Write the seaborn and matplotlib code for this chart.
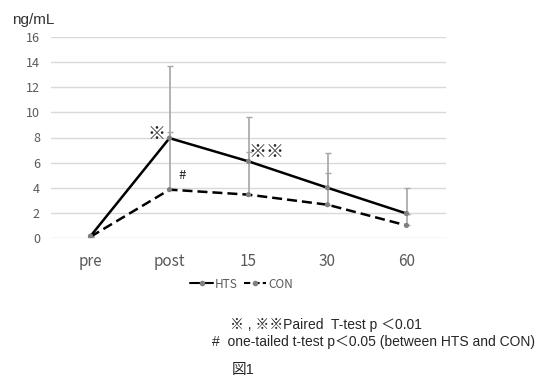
import numpy as np
import pandas as pd
import matplotlib
matplotlib.use('Agg')
import matplotlib.pyplot as plt
import seaborn as sns
from matplotlib.lines import Line2D

# data
time_points = ["pre", "post", "15", "30", "60"]
hts_mean = [0.15, 7.95, 6.1, 4.0, 1.95]
hts_err = [0.0, 5.75, 3.5, 2.8, 2.0]
con_mean = [0.1, 3.85, 3.45, 2.65, 1.0]
con_err = [0.0, 4.6, 3.4, 2.55, 0.9]

sns.set_style("white")
plt.rcParams['font.family'] = ['Noto Sans CJK JP', 'DejaVu Sans']
arial_cjk = ['Liberation Sans', 'Noto Sans CJK JP']

df = pd.DataFrame({
    "time": time_points * 2,
    "value": hts_mean + con_mean,
    "group": ["HTS"] * 5 + ["CON"] * 5,
})
x_idx = np.arange(len(time_points))

fig = plt.figure(figsize=(5.36, 3.76), dpi=100)
ax = fig.add_axes([51 / 536, 1 - 238 / 376, 395 / 536, 201 / 376])

# error bars (plus direction only, like Excel)
err_col = "#a6a6a6"
ax.errorbar(x_idx, hts_mean, yerr=[np.zeros(5), hts_err], fmt="none",
            ecolor=err_col, elinewidth=1.2, capsize=2.5, capthick=1, zorder=2)
ax.errorbar(x_idx, con_mean, yerr=[np.zeros(5), con_err], fmt="none",
            ecolor=err_col, elinewidth=1.2, capsize=2.5, capthick=1, zorder=2)

sns.lineplot(data=df, x="time", y="value", hue="group", style="group",
             palette={"HTS": "black", "CON": "black"},
             dashes={"HTS": "", "CON": (4, 2)}, markers=False,
             sort=False, linewidth=1.8, legend=False, ax=ax, zorder=3)
sns.scatterplot(data=df, x="time", y="value", color="#808080", s=14,
                edgecolor="none", legend=False, ax=ax, zorder=4)

ax.set_xlim(-0.5, len(time_points) - 0.5)
ax.set_ylim(0, 16)
ax.set_yticks(range(0, 17, 2))
ax.set_xticks(x_idx)
ax.set_xticklabels(time_points)
ax.grid(axis="y", color="#d9d9d9", linewidth=1)
ax.set_axisbelow(True)
for s in ax.spines.values():
    s.set_visible(False)
ax.tick_params(axis="y", labelsize=9, colors="#595959", length=0, pad=8)
ax.tick_params(axis="x", labelsize=11, colors="#595959", length=0, pad=11)
ax.set_xlabel("")
ax.set_ylabel("")

fig.text(12 / 536, 1 - 20 / 376, "ng/mL", fontsize=11, color="#333333", va="center",
         family=arial_cjk)

# significance marks
ax.annotate("※", (1, hts_mean[1]), xytext=(-9, 3), textcoords="offset points",
            ha="center", va="center", fontsize=13)
ax.annotate("#", (1, con_mean[1]), xytext=(9, 10), textcoords="offset points",
            ha="center", va="center", fontsize=9.5)
ax.annotate("※※", (2, hts_mean[2]), xytext=(13, 7), textcoords="offset points",
            ha="center", va="center", fontsize=13)

handles = [
    Line2D([], [], color="black", linewidth=1.5, marker="o", markersize=3,
           markerfacecolor="#808080", markeredgecolor="#808080"),
    Line2D([], [], color="black", linewidth=1.5, linestyle=(0, (3, 1.5)), marker="o",
           markersize=3, markerfacecolor="#808080", markeredgecolor="#808080"),
]
fig.legend(handles, ["HTS", "CON"], loc="center", bbox_to_anchor=(242 / 536, 1 - 284 / 376),
           ncol=2, frameon=False, fontsize=8.5, handlelength=1.9, handletextpad=0.2,
           columnspacing=0.5, labelcolor="#595959")

fig.text(230 / 536, 1 - 325 / 376, "※ , ※※Paired  T-test p ＜0.01", fontsize=10,
         va="center", family=arial_cjk)
fig.text(212 / 536, 1 - 342 / 376, "#  one-tailed t-test p＜0.05 (between HTS and CON)",
         fontsize=10, va="center", family=arial_cjk)
fig.text(232 / 536, 1 - 370 / 376, "図1", fontsize=10.5, va="center", family=arial_cjk)

fig.savefig("out.png", dpi=100)
